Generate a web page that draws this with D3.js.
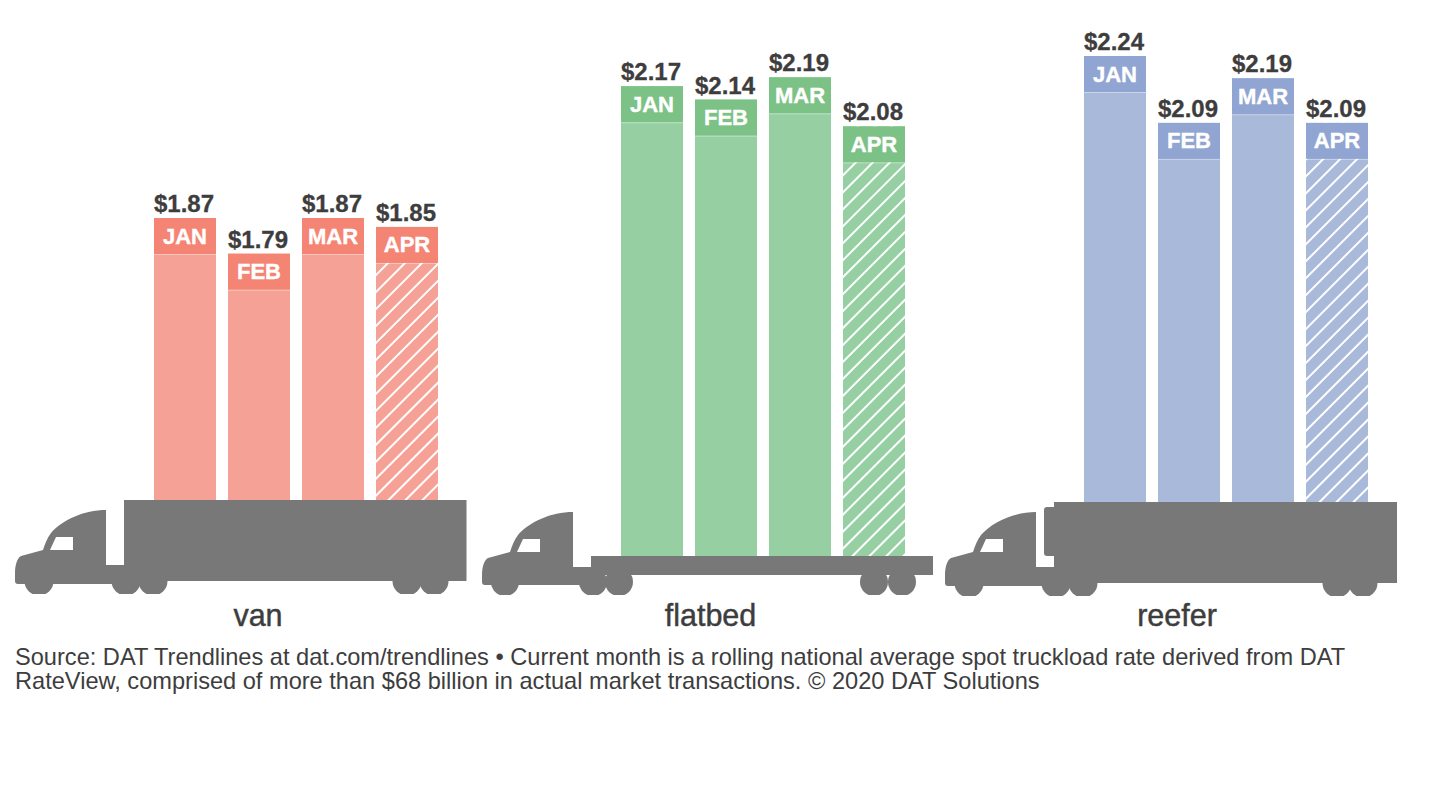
<!DOCTYPE html>
<html>
<head>
<meta charset="utf-8">
<script src="https://cdn.jsdelivr.net/npm/d3@7"></script>
<style>
  body { margin: 0; background: #fff; }
  text { font-family: "Liberation Sans", Arial, sans-serif; fill: #3d3d3d; }
</style>
</head>
<body>
<script>
let months = ["JAN", "FEB", "MAR", "APR"];
let equipment = ["van", "flatbed", "reefer"];
let vanRates = [1.87, 1.79, 1.87, 1.85];
let flatbedRates = [2.17, 2.14, 2.19, 2.08];
let reeferRates = [2.24, 2.09, 2.19, 2.09];
let footnote = [
  "Source: DAT Trendlines at dat.com/trendlines \u2022 Current month is a rolling national average spot truckload rate derived from DAT",
  "RateView, comprised of more than $68 billion in actual market transactions. \u00a9 2020 DAT Solutions"
];

let width = 1432;
let height = 805;
let grey = "#787878";

let svg = d3.select("body")
            .append("svg")
            .attr("width", width)
            .attr("height", height)
            .style("display", "block");

// all panels share the same dollars to pixels scale, the bottom is hidden by the truck
let y = d3.scaleLinear().domain([1.24, 2.24]).range([446, 0]);
let x = d3.scaleBand().domain(months).range([0, 284]).paddingInner(12 / 74);

let panels = [
  {name: equipment[0], rates: vanRates, left: 154, top: 53, floor: 502, labelX: 258, light: "#f5a195", dark: "#f48473"},
  {name: equipment[1], rates: flatbedRates, left: 621, top: 55, floor: 556, labelX: 710.5, light: "#96d0a2", dark: "#7cc286"},
  {name: equipment[2], rates: reeferRates, left: 1084, top: 56, floor: 504, labelX: 1177, light: "#a9b9da", dark: "#90a5d2"}
];

let defs = svg.append("defs");

panels.forEach(function(p) {
  // hatching for the current month
  let hatch = defs.append("pattern")
                  .attr("id", "hatch-" + p.name)
                  .attr("patternUnits", "userSpaceOnUse")
                  .attr("width", 12)
                  .attr("height", 12)
                  .attr("patternTransform", "rotate(45)");
  hatch.append("rect")
       .attr("width", 12)
       .attr("height", 12)
       .attr("fill", p.light);
  hatch.append("line")
       .attr("x1", 0)
       .attr("y1", 0)
       .attr("x2", 0)
       .attr("y2", 12)
       .attr("stroke", "#fff")
       .attr("stroke-width", 4);

  let g = svg.append("g")
             .attr("transform", `translate(${p.left},${p.top})`);
  let floor = p.floor - p.top;

  let bars = g.selectAll(".bar")
              .data(p.rates)
              .enter().append("g")
                      .attr("class", "bar")
                      .attr("transform", (d, i) => `translate(${x(months[i])},0)`);

  bars.append("rect")
      .attr("y", d => y(d))
      .attr("width", x.bandwidth())
      .attr("height", d => floor - y(d))
      .attr("fill", (d, i) => months[i] == "APR" ? `url(#hatch-${p.name})` : p.light);

  bars.append("rect")
      .attr("y", d => y(d))
      .attr("width", x.bandwidth())
      .attr("height", 36)
      .attr("fill", p.dark);

  // faint light edge under the month band
  bars.append("rect")
      .attr("y", d => y(d) + 36)
      .attr("width", x.bandwidth())
      .attr("height", 1)
      .attr("fill", "#fff")
      .attr("opacity", 0.4);

  bars.append("text")
      .attr("x", x.bandwidth() / 2)
      .attr("y", d => y(d) + 25.5)
      .attr("text-anchor", "middle")
      .attr("font-size", 22)
      .attr("font-weight", "bold")
      .style("fill", "#fff")
      .style("stroke", "#fff")
      .style("stroke-width", 0.4)
      .text((d, i) => months[i]);

  bars.append("text")
      .attr("x", x.bandwidth() / 2 - 1)
      .attr("y", d => y(d) - 6)
      .attr("text-anchor", "middle")
      .attr("font-size", 24)
      .attr("font-weight", "bold")
      .style("stroke", "#3d3d3d")
      .style("stroke-width", 0.3)
      .text(d => "$" + d.toFixed(2));

  svg.append("text")
     .attr("x", p.labelX)
     .attr("y", 625.5)
     .attr("text-anchor", "middle")
     .attr("font-size", 30.5)
     .style("stroke", "#3d3d3d")
     .style("stroke-width", 0.45)
     .text(p.name);
});

// truck silhouettes, cab is the same in all three
function drawCab(dx, dy, bottom) {
  let cab = `M${dx + 106},${dy + 510} C${dx + 84},${dy + 510} ${dx + 62},${dy + 520} ${dx + 51},${dy + 533}
             C${dx + 47},${dy + 538} ${dx + 45},${dy + 544} ${dx + 43},${dy + 550} L${dx + 21},${dy + 556}
             C${dx + 17},${dy + 558} ${dx + 15},${dy + 566} ${dx + 15},${dy + 572} L${dx + 15},${bottom - 3}
             Q${dx + 15},${bottom} ${dx + 18},${bottom}
             L${dx + 130},${bottom} L${dx + 130},${dy + 565} L${dx + 106},${dy + 565} Z`;
  svg.append("path").attr("d", cab).attr("fill", grey);
  svg.append("path")
     .attr("d", `M${dx + 56},${dy + 537} L${dx + 73},${dy + 537} L${dx + 73},${dy + 550} L${dx + 50},${dy + 550} Z`)
     .attr("fill", "#fff");
}

// wheels are cut off flat at the bottom
function drawWheels(id, xs, cy, r, bottom) {
  defs.append("clipPath")
      .attr("id", "wheels-" + id)
      .append("rect")
      .attr("width", width)
      .attr("height", bottom);
  let wheels = svg.append("g").attr("clip-path", `url(#wheels-${id})`);
  xs.forEach(function(cx) {
    wheels.append("circle")
          .attr("cx", cx)
          .attr("cy", cy)
          .attr("r", r)
          .attr("fill", grey);
  });
}

// van
drawCab(0, 0, 584);
svg.append("rect").attr("x", 124).attr("y", 500).attr("width", 342.5).attr("height", 81).attr("fill", grey);
drawWheels("van", [39, 126, 153, 407, 434], 581, 14.5, 594);

// flatbed
drawCab(467, 2, 585);
svg.append("rect").attr("x", 591).attr("y", 556).attr("width", 342).attr("height", 19).attr("fill", grey);
drawWheels("flatbed", [505, 593, 619, 874, 902], 582, 14, 595);

// reefer
drawCab(930, 2, 586);
svg.append("rect").attr("x", 1054).attr("y", 502).attr("width", 343).attr("height", 81).attr("fill", grey);
svg.append("rect").attr("x", 1044).attr("y", 507).attr("width", 14).attr("height", 49).attr("rx", 3).attr("fill", grey);
drawWheels("reefer", [969, 1056, 1083, 1337, 1363], 583, 14.5, 596);

svg.selectAll(".note")
   .data(footnote)
   .enter().append("text")
           .attr("class", "note")
           .attr("x", 15)
           .attr("y", (d, i) => 665 + i * 23.5)
           .attr("font-size", 23.6)
           .text(d => d);
</script>
</body>
</html>
